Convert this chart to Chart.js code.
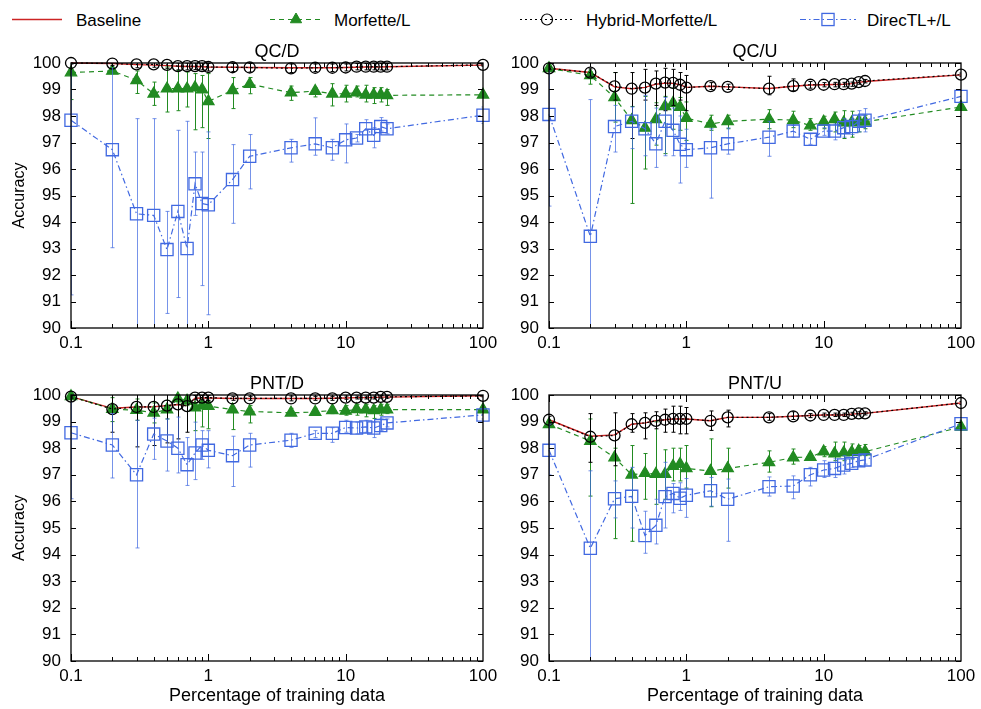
<!DOCTYPE html>
<html>
<head>
<meta charset="utf-8">
<title>Accuracy vs. percentage of training data</title>
<script src="https://cdn.jsdelivr.net/npm/chart.js@4.4.1/dist/chart.umd.min.js"></script>
<style>
  html, body { margin: 0; padding: 0; background: #fff; }
  #wrap { position: relative; width: 981px; height: 709px; overflow: hidden; background: #fff; }
  #wrap canvas { position: absolute; display: block; }
  #legend { position: absolute; left: 0; top: 0; }
</style>
</head>
<body>
<div id="wrap">
  <svg id="legend" width="981" height="36" xmlns="http://www.w3.org/2000/svg"></svg>
  <canvas id="qcd" width="510" height="324" style="left:0;top:36px"></canvas>
  <canvas id="qcu" width="491" height="324" style="left:490px;top:36px"></canvas>
  <canvas id="pnd" width="510" height="347" style="left:0;top:362px"></canvas>
  <canvas id="pnu" width="491" height="347" style="left:490px;top:362px"></canvas>
</div>
<script>
// ---- data -------------------------------------------------------------
const percentages = [0.1, 0.2, 0.3, 0.4, 0.5, 0.6, 0.7, 0.8, 0.9, 1, 1.5, 2, 4, 6, 8, 10, 12, 14, 16, 18, 20, 100];

const xTickValues = [0.1, 1, 10, 100];
const xTickLabels = ['0.1', '1', '10', '100'];
const yTickValues = [90, 91, 92, 93, 94, 95, 96, 97, 98, 99, 100];
const yTickLabels = ['90', '91', '92', '93', '94', '95', '96', '97', '98', '99', '100'];

const seriesNames = ['Baseline', 'Morfette/L', 'Hybrid-Morfette/L', 'DirecTL+/L'];
const panelTitles = ['QC/D', 'QC/U', 'PNT/D', 'PNT/U'];

// QC/D
const qcdBaseline = [100, 99.98, 99.94, 99.92, 99.9, 99.88, 99.87, 99.87, 99.86, 99.85, 99.84, 99.83, 99.82, 99.82, 99.82, 99.83, 99.84, 99.85, 99.85, 99.85, 99.86, 99.92];
const qcdMorfette = [99.64, 99.7, 99.35, 98.84, 99.03, 99.03, 99.03, 99.07, 99.0, 98.55, 98.97, 99.2, 98.88, 98.94, 98.84, 98.84, 98.88, 98.8, 98.8, 98.8, 98.78, 98.8];
const qcdMorfetteLow = [98.62, 99.6, 98.85, 98.4, 98.15, 98.2, 98.34, 97.48, 97.56, 97.15, 98.28, 98.84, 98.59, 98.72, 98.38, 98.53, 98.72, 98.53, 98.47, 98.53, 98.4, 98.75];
const qcdMorfetteHigh = [100.6, 99.8, 99.7, 99.28, 99.85, 99.72, 99.66, 99.6, 99.53, 99.6, 99.45, 99.45, 99.13, 99.07, 99.22, 99.16, 99.13, 99.16, 99.07, 99.07, 99.0, 98.85];
const qcdHybrid = [100, 99.98, 99.95, 99.95, 99.93, 99.88, 99.88, 99.88, 99.88, 99.85, 99.84, 99.83, 99.8, 99.82, 99.82, 99.83, 99.86, 99.86, 99.86, 99.86, 99.86, 99.93];
const qcdHybridLow = [99.96, 99.9, 99.82, 99.84, 99.8, 99.74, 99.74, 99.75, 99.74, 99.7, 99.68, 99.66, 99.64, 99.68, 99.68, 99.7, 99.74, 99.74, 99.74, 99.74, 99.74, 99.88];
const qcdHybridHigh = [100.04, 100.05, 100.06, 100.05, 100.04, 100.0, 100.0, 100.0, 100.0, 99.98, 99.98, 99.98, 99.96, 99.96, 99.96, 99.96, 99.98, 99.98, 99.98, 99.98, 99.98, 99.98];
const qcdDirectl = [97.84, 96.73, 94.31, 94.25, 92.96, 94.4, 93.0, 95.44, 94.7, 94.65, 95.6, 96.48, 96.8, 96.95, 96.8, 97.1, 97.17, 97.52, 97.27, 97.6, 97.52, 98.03];
const qcdDirectlLow = [91.25, 93.03, 89.0, 89.0, 90.55, 91.15, 89.0, 94.25, 91.6, 90.5, 93.95, 95.25, 96.26, 96.52, 96.33, 96.23, 97.02, 97.46, 96.8, 97.43, 97.33, 97.72];
const qcdDirectlHigh = [104.4, 100.4, 97.9, 97.9, 94.4, 97.46, 97.8, 96.64, 96.64, 97.4, 96.92, 97.3, 97.12, 97.93, 97.12, 97.7, 97.3, 97.86, 97.56, 97.94, 97.7, 98.34];

// QC/U
const qcuBaseline = [99.8, 99.64, 99.1, 99.03, 99.08, 99.2, 99.24, 99.23, 99.18, 99.08, 99.12, 99.1, 99.04, 99.12, 99.17, 99.18, 99.19, 99.2, 99.22, 99.27, 99.3, 99.55];
const qcuMorfette = [99.8, 99.53, 98.7, 97.84, 97.55, 97.87, 98.36, 98.49, 98.34, 97.92, 97.7, 97.8, 97.88, 97.84, 97.64, 97.78, 97.87, 97.75, 97.75, 97.8, 97.78, 98.34];
const qcuMorfetteLow = [99.75, 99.2, 97.77, 94.7, 96.0, 96.9, 96.58, 97.5, 97.46, 97.08, 97.46, 97.52, 97.52, 97.56, 97.46, 97.52, 97.4, 97.15, 97.2, 97.4, 97.52, 98.28];
const qcuMorfetteHigh = [99.85, 99.68, 99.64, 98.36, 98.74, 98.5, 98.74, 99.05, 98.7, 98.53, 98.03, 98.03, 98.24, 98.18, 97.9, 97.99, 98.15, 98.2, 98.18, 97.96, 98.03, 98.4];
const qcuHybrid = [99.8, 99.64, 99.12, 99.03, 99.07, 99.22, 99.26, 99.25, 99.18, 99.07, 99.13, 99.1, 99.03, 99.13, 99.18, 99.18, 99.2, 99.2, 99.22, 99.28, 99.32, 99.56];
const qcuHybridLow = [99.75, 99.5, 98.6, 97.15, 98.6, 98.4, 98.2, 98.4, 98.6, 98.2, 99.0, 99.0, 98.8, 98.95, 99.05, 99.1, 99.1, 99.1, 99.12, 99.2, 99.25, 99.5];
const qcuHybridHigh = [99.85, 99.78, 99.64, 99.64, 99.76, 99.7, 99.8, 99.76, 99.64, 99.53, 99.26, 99.2, 99.5, 99.4, 99.3, 99.26, 99.27, 99.27, 99.28, 99.34, 99.38, 99.62];
const qcuDirectl = [98.06, 93.46, 97.6, 97.8, 97.52, 96.95, 97.8, 97.46, 96.93, 96.73, 96.8, 96.95, 97.2, 97.43, 97.12, 97.43, 97.43, 97.56, 97.6, 97.8, 97.84, 98.74];
const qcuDirectlLow = [94.6, 89.0, 96.64, 96.77, 96.5, 96.06, 96.5, 96.5, 95.47, 96.06, 94.9, 96.56, 96.48, 97.2, 96.93, 97.27, 97.1, 97.2, 97.3, 97.4, 97.4, 98.53];
const qcuDirectlHigh = [101.5, 98.62, 98.4, 98.34, 98.78, 98.3, 98.7, 98.3, 98.0, 97.5, 97.52, 97.55, 97.8, 97.64, 97.33, 97.56, 97.7, 97.9, 97.9, 98.2, 98.28, 98.97];

// PNT/D
const pndBaseline = [99.94, 99.5, 99.55, 99.56, 99.6, 99.64, 99.6, 99.88, 99.89, 99.89, 99.87, 99.87, 99.87, 99.87, 99.88, 99.89, 99.9, 99.9, 99.9, 99.92, 99.92, 99.97];
const pndMorfette = [99.95, 99.47, 99.43, 99.33, 99.45, 99.87, 99.78, 99.53, 99.6, 99.58, 99.45, 99.38, 99.33, 99.36, 99.42, 99.4, 99.46, 99.45, 99.42, 99.45, 99.45, 99.45];
const pndMorfetteLow = [99.9, 99.0, 99.05, 98.95, 99.1, 99.7, 99.6, 98.66, 98.8, 98.73, 98.7, 98.95, 99.24, 99.24, 99.3, 99.24, 99.24, 99.18, 99.12, 99.24, 99.3, 99.4];
const pndMorfetteHigh = [100, 99.9, 99.85, 99.7, 99.8, 100, 99.95, 99.68, 99.68, 99.75, 99.68, 99.6, 99.5, 99.5, 99.55, 99.6, 99.65, 99.65, 99.6, 99.65, 99.65, 99.5];
const pndHybrid = [99.94, 99.47, 99.55, 99.55, 99.6, 99.65, 99.58, 99.9, 99.9, 99.9, 99.87, 99.87, 99.87, 99.87, 99.87, 99.9, 99.9, 99.9, 99.9, 99.93, 99.93, 99.97];
const pndHybridLow = [99.88, 98.6, 98.05, 98.1, 98.2, 98.35, 98.6, 99.82, 99.82, 99.8, 99.8, 99.8, 99.78, 99.8, 99.8, 99.84, 99.85, 99.85, 99.85, 99.88, 99.88, 99.93];
const pndHybridHigh = [100, 100.3, 100.5, 100.5, 100.4, 100.3, 100.2, 99.98, 99.98, 99.98, 99.95, 99.95, 99.96, 99.95, 99.95, 99.96, 99.96, 99.96, 99.96, 99.98, 99.98, 100];
const pndDirectl = [98.58, 98.12, 97.0, 98.53, 98.27, 98.0, 97.38, 97.82, 98.12, 97.92, 97.72, 98.12, 98.3, 98.56, 98.56, 98.78, 98.76, 98.8, 98.76, 98.85, 98.95, 99.25];
const pndDirectlLow = [96.1, 96.88, 94.25, 97.58, 97.14, 97.07, 96.6, 96.82, 97.58, 97.26, 96.56, 97.29, 98.03, 98.4, 98.22, 98.6, 98.54, 98.6, 98.4, 98.66, 98.8, 99.1];
const pndDirectlHigh = [101.1, 99.3, 99.05, 99.13, 99.1, 99.17, 98.4, 98.98, 98.66, 98.66, 98.45, 98.56, 98.56, 98.66, 98.77, 99.05, 98.98, 99.05, 98.98, 99.1, 99.1, 99.43];

// PNT/U
const pnuBaseline = [99.07, 98.45, 98.5, 98.9, 98.95, 99.03, 99.07, 99.1, 99.1, 99.1, 99.03, 99.16, 99.16, 99.2, 99.23, 99.25, 99.25, 99.25, 99.28, 99.3, 99.31, 99.7];
const pnuMorfette = [98.9, 98.27, 97.65, 97.0, 97.06, 97.03, 97.03, 97.33, 97.4, 97.24, 97.14, 97.24, 97.47, 97.65, 97.67, 97.87, 97.8, 97.83, 97.85, 97.9, 97.87, 98.8];
const pnuMorfetteLow = [98.8, 96.2, 94.6, 94.5, 96.08, 95.89, 96.08, 96.77, 96.77, 96.5, 95.8, 96.5, 97.1, 97.4, 97.6, 97.68, 97.53, 97.53, 97.6, 97.72, 97.72, 98.75];
const pnuMorfetteHigh = [99.0, 99.1, 98.0, 98.1, 97.8, 98.99, 97.94, 98.0, 98.0, 98.1, 98.35, 98.0, 97.9, 97.97, 97.78, 98.06, 98.23, 98.23, 98.16, 98.1, 98.14, 98.85];
const pnuHybrid = [99.07, 98.43, 98.48, 98.9, 98.95, 99.03, 99.07, 99.1, 99.1, 99.1, 99.03, 99.16, 99.16, 99.2, 99.23, 99.25, 99.25, 99.25, 99.29, 99.31, 99.31, 99.7];
const pnuHybridLow = [98.95, 97.47, 97.34, 98.6, 98.35, 98.73, 98.6, 98.6, 98.54, 98.54, 98.67, 98.8, 99.05, 99.08, 99.15, 99.18, 99.19, 99.19, 99.23, 99.25, 99.25, 99.64];
const pnuHybridHigh = [99.2, 99.3, 99.33, 99.3, 99.33, 99.37, 99.47, 99.58, 99.58, 99.53, 99.4, 99.43, 99.3, 99.37, 99.3, 99.32, 99.32, 99.32, 99.35, 99.37, 99.37, 99.76];
const pnuDirectl = [97.92, 94.24, 96.1, 96.19, 94.72, 95.1, 96.18, 96.3, 96.12, 96.23, 96.4, 96.08, 96.55, 96.58, 97.0, 97.18, 97.24, 97.37, 97.43, 97.53, 97.56, 98.92];
const pnuDirectlLow = [97.0, 89.0, 95.38, 95.0, 94.05, 94.4, 95.0, 95.57, 95.66, 95.4, 95.82, 94.5, 96.2, 96.1, 96.58, 96.9, 96.9, 97.03, 97.28, 97.34, 97.4, 98.77];
const pnuDirectlHigh = [98.9, 97.15, 96.77, 97.28, 95.63, 96.08, 97.47, 96.67, 96.7, 96.86, 96.9, 96.84, 96.92, 96.96, 97.28, 97.53, 97.6, 97.72, 97.6, 97.72, 97.78, 99.05];

// ---- styling ----------------------------------------------------------
const FONT = '"Liberation Sans", Arial, Helvetica, sans-serif';
Chart.defaults.font.family = FONT;
Chart.defaults.color = '#000';

const seriesStyles = [
  { color: '#cc2424', dash: [], width: 1.4, point: false, radius: 0, filled: false, bar: null },
  { color: '#228b22', dash: [5, 4], width: 1.2, point: 'triangle', radius: 6.5, filled: true, bar: '#228b22' },
  { color: '#000000', dash: [2, 3], width: 1.2, point: 'circle', radius: 5.5, filled: false, bar: '#000000' },
  { color: '#4169e1', dash: [6, 3, 1.5, 3], width: 1.2, point: 'rect', radius: 8.6, filled: false, bar: 'rgba(65,105,225,0.72)' }
];

// Error bars, drawn for each dataset just before the dataset itself.
const errorBars = {
  id: 'errorBars',
  beforeDatasetDraw(chart, args) {
    const ds = chart.data.datasets[args.index];
    if (!ds.errLow || !ds.errColor) return;
    const { ctx, chartArea: a, scales: { x, y } } = chart;
    ctx.save();
    ctx.beginPath();
    ctx.rect(a.left, a.top, a.right - a.left, a.bottom - a.top);
    ctx.clip();
    ctx.strokeStyle = ds.errColor;
    ctx.lineWidth = 1;
    ctx.setLineDash([]);
    ctx.beginPath();
    ds.data.forEach((p, i) => {
      const px = Math.round(x.getPixelForValue(p.x)) + 0.5;
      const lo = y.getPixelForValue(ds.errLow[i]);
      const hi = y.getPixelForValue(ds.errHigh[i]);
      ctx.moveTo(px, lo); ctx.lineTo(px, hi);
      ctx.moveTo(px - 2, lo); ctx.lineTo(px + 2, lo);
      ctx.moveTo(px - 2, hi); ctx.lineTo(px + 2, hi);
    });
    ctx.stroke();
    ctx.restore();
  }
};

// Plot frame with inward ticks (mirrored on all sides) and the panel title.
const panelFrame = {
  id: 'panelFrame',
  afterDatasetsDraw(chart, args, opts) {
    const { ctx, chartArea: a, scales: { x, y } } = chart;
    ctx.save();
    ctx.setLineDash([]);
    ctx.strokeStyle = '#000';
    ctx.lineWidth = 1;
    ctx.beginPath();
    yTickValues.forEach(v => {
      const py = Math.round(y.getPixelForValue(v)) + 0.5;
      ctx.moveTo(a.left, py); ctx.lineTo(a.left + 5, py);
      ctx.moveTo(a.right, py); ctx.lineTo(a.right - 5, py);
    });
    for (let d = 0; d < xTickValues.length - 1; d++) {
      for (let k = 1; k <= 9; k++) {
        const v = xTickValues[d] * k;
        const len = k === 1 ? 7 : 4;
        const px = Math.round(x.getPixelForValue(v)) + 0.5;
        ctx.moveTo(px, a.bottom); ctx.lineTo(px, a.bottom - len);
        ctx.moveTo(px, a.top); ctx.lineTo(px, a.top + len);
      }
    }
    ctx.stroke();
    ctx.lineWidth = 1.3;
    ctx.strokeRect(a.left, a.top, a.right - a.left, a.bottom - a.top);
    ctx.fillStyle = '#000';
    ctx.font = '18px ' + FONT;
    ctx.textAlign = 'center';
    ctx.textBaseline = 'alphabetic';
    ctx.fillText(opts.text, (a.left + a.right) / 2, a.top - 6);
    ctx.restore();
  }
};

const panels = [
  { canvas: 'qcd', title: panelTitles[0], yTitle: true, xTitle: false, yWidth: 71, xHeight: 32, padTop: 27, padRight: 27,
    series: [[qcdBaseline], [qcdMorfette, qcdMorfetteLow, qcdMorfetteHigh], [qcdHybrid, qcdHybridLow, qcdHybridHigh], [qcdDirectl, qcdDirectlLow, qcdDirectlHigh]] },
  { canvas: 'qcu', title: panelTitles[1], yTitle: false, xTitle: false, yWidth: 59, xHeight: 32, padTop: 27, padRight: 20,
    series: [[qcuBaseline], [qcuMorfette, qcuMorfetteLow, qcuMorfetteHigh], [qcuHybrid, qcuHybridLow, qcuHybridHigh], [qcuDirectl, qcuDirectlLow, qcuDirectlHigh]] },
  { canvas: 'pnd', title: panelTitles[2], yTitle: true, xTitle: true, yWidth: 71, xHeight: 48, padTop: 33, padRight: 27,
    series: [[pndBaseline], [pndMorfette, pndMorfetteLow, pndMorfetteHigh], [pndHybrid, pndHybridLow, pndHybridHigh], [pndDirectl, pndDirectlLow, pndDirectlHigh]] },
  { canvas: 'pnu', title: panelTitles[3], yTitle: false, xTitle: true, yWidth: 59, xHeight: 48, padTop: 33, padRight: 20,
    series: [[pnuBaseline], [pnuMorfette, pnuMorfetteLow, pnuMorfetteHigh], [pnuHybrid, pnuHybridLow, pnuHybridHigh], [pnuDirectl, pnuDirectlLow, pnuDirectlHigh]] }
];

panels.forEach(p => {
  const datasets = p.series.map(([vals, lo, hi], k) => {
    const s = seriesStyles[k];
    return {
      label: seriesNames[k],
      data: percentages.map((v, i) => ({ x: v, y: vals[i] })),
      errLow: lo, errHigh: hi, errColor: s.bar,
      borderColor: s.color,
      borderWidth: s.width,
      borderDash: s.dash,
      backgroundColor: s.color,
      pointStyle: s.point,
      pointRadius: s.radius,
      pointBorderColor: s.color,
      pointBackgroundColor: s.filled ? s.color : 'rgba(0,0,0,0)',
      pointBorderWidth: 1.3,
      tension: 0,
      fill: false,
      clip: 14,
      order: 4 - k
    };
  });

  new Chart(document.getElementById(p.canvas), {
    type: 'line',
    data: { datasets },
    options: {
      responsive: false,
      animation: false,
      devicePixelRatio: 1,
      events: [],
      layout: { padding: { top: p.padTop, right: p.padRight, left: 0, bottom: 0 } },
      plugins: {
        legend: { display: false },
        tooltip: { enabled: false },
        title: { display: false },
        panelFrame: { text: p.title }
      },
      scales: {
        x: {
          type: 'logarithmic',
          min: 0.1, max: 100,
          grid: { display: false, drawTicks: false },
          border: { display: false },
          afterBuildTicks: s => { s.ticks = xTickValues.map(v => ({ value: v })); },
          afterFit: s => { s.height = p.xHeight; s.paddingLeft = 0; s.paddingRight = 0; },
          ticks: {
            autoSkip: false, maxRotation: 0, minRotation: 0, padding: 5,
            color: '#000', font: { size: 17 },
            callback: (v, i) => xTickLabels[i]
          },
          title: {
            display: p.xTitle, text: 'Percentage of training data', color: '#000',
            font: { size: 18 }, padding: { top: 0, bottom: 2 }
          }
        },
        y: {
          type: 'linear',
          min: 90, max: 100,
          grid: { display: false, drawTicks: false },
          border: { display: false },
          afterBuildTicks: s => { s.ticks = yTickValues.map(v => ({ value: v })); },
          afterFit: s => { s.width = p.yWidth; s.paddingTop = 0; s.paddingBottom = 0; },
          ticks: {
            padding: 10, color: '#000', font: { size: 17 },
            callback: (v, i) => yTickLabels[i]
          },
          title: {
            display: p.yTitle, text: 'Accuracy', color: '#000',
            font: { size: 16 }, padding: { top: 10, bottom: 0 }
          }
        }
      }
    },
    plugins: [errorBars, panelFrame]
  });
});

// ---- shared key across the top ----------------------------------------
const legendLayout = [
  { x0: 12, x1: 62, tx: 76 },
  { x0: 270, x1: 322, tx: 334 },
  { x0: 520, x1: 574, tx: 586 },
  { x0: 800, x1: 856, tx: 867 }
];
(function buildLegend() {
  const svg = document.getElementById('legend');
  const NS = 'http://www.w3.org/2000/svg';
  const ly = 19.5;
  const el = (name, attrs) => {
    const n = document.createElementNS(NS, name);
    Object.entries(attrs).forEach(([k, v]) => n.setAttribute(k, v));
    svg.appendChild(n);
    return n;
  };
  seriesNames.forEach((name, k) => {
    const s = seriesStyles[k];
    const L = legendLayout[k];
    el('line', { x1: L.x0, y1: ly, x2: L.x1, y2: ly, stroke: s.color, 'stroke-width': s.width,
      'stroke-dasharray': s.dash.length ? s.dash.join(' ') : 'none' });
    const cx = (L.x0 + L.x1) / 2;
    if (s.point === 'triangle') {
      const r = s.radius;
      el('polygon', { points: `${cx},${ly - r} ${cx + r * 0.866},${ly + r / 2} ${cx - r * 0.866},${ly + r / 2}`, fill: s.color, stroke: s.color, 'stroke-width': 1 });
    } else if (s.point === 'circle') {
      el('circle', { cx, cy: ly, r: s.radius, fill: 'none', stroke: s.color, 'stroke-width': 1.2 });
    } else if (s.point === 'rect') {
      const h = s.radius * Math.SQRT1_2;
      el('rect', { x: cx - h, y: ly - h, width: 2 * h, height: 2 * h, fill: 'none', stroke: s.color, 'stroke-width': 1.3 });
    }
    const t = el('text', { x: L.tx, y: ly + 6, 'font-family': FONT, 'font-size': 17, fill: '#000' });
    t.textContent = name;
  });
})();
</script>
</body>
</html>
